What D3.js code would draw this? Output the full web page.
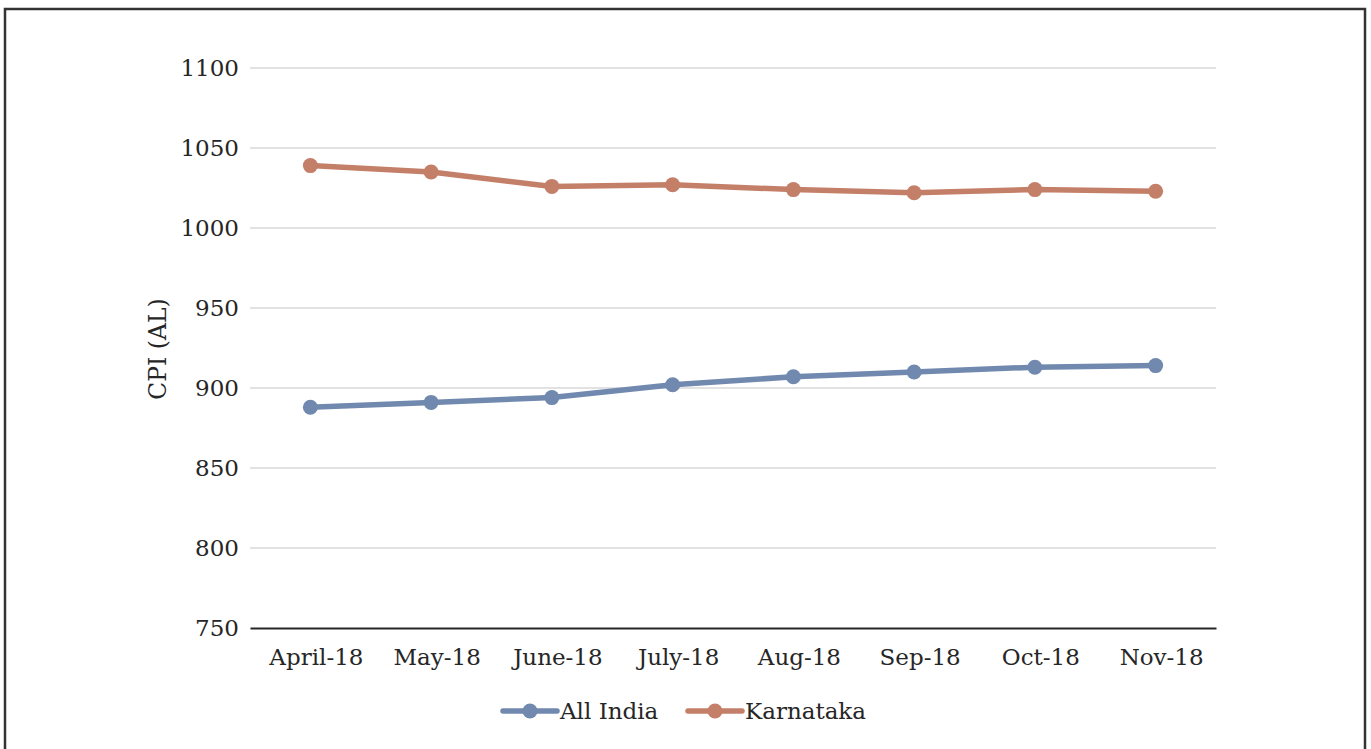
<!DOCTYPE html>
<html>
  <head>
    <meta charset="UTF-8" />
    <style>
      body { margin: 0; background: #fff; }
      svg text { font-family: "DejaVu Serif", serif; fill: #262626; }
    </style>
  </head>
  <body>
    <svg></svg>
    <script src="https://d3js.org/d3.v7.min.js"></script>
    <script>
      let width = 1371,
        height = 749;

      const months = ["April-18", "May-18", "June-18", "July-18", "Aug-18", "Sep-18", "Oct-18", "Nov-18"];
      const allIndia = [888, 891, 894, 902, 907, 910, 913, 914];
      const karnataka = [1039, 1035, 1026, 1027, 1024, 1022, 1024, 1023];
      const yTicks = [750, 800, 850, 900, 950, 1000, 1050, 1100];
      const seriesNames = ["All India", "Karnataka"];
      const colors = ["#7189ae", "#c47f68"];

      let svg = d3.select("svg").attr("width", width).attr("height", height);

      // outer frame
      svg.append("rect")
        .attr("x", 5).attr("y", 9)
        .attr("width", 1360).attr("height", 760)
        .attr("fill", "none")
        .attr("stroke", "#333")
        .attr("stroke-width", 2.5);

      let x = d3.scaleBand().domain(months).range([250, 1216]);
      let y = d3.scaleLinear().domain([750, 1100]).range([628, 68]);

      // gridlines
      svg.append("g")
        .selectAll("line")
        .data(yTicks.slice(1))
        .join("line")
        .attr("x1", 250).attr("x2", 1216)
        .attr("y1", (d) => y(d)).attr("y2", (d) => y(d))
        .attr("stroke", "#d9d9d9")
        .attr("stroke-width", 1.5);

      // y axis labels
      let yAxis = svg.append("g")
        .attr("transform", "translate(250,0)")
        .call(d3.axisLeft(y).tickValues(yTicks).tickFormat(d3.format("d")).tickSize(0).tickPadding(11));
      yAxis.select(".domain").remove();
      yAxis.selectAll("text").attr("font-size", 23).style("font-family", "DejaVu Serif");

      // x axis
      let xAxis = svg.append("g")
        .attr("transform", "translate(0," + y(750) + ")")
        .call(d3.axisBottom(x).tickSize(0).tickPadding(21));
      xAxis.select(".domain").attr("stroke", "#262626").attr("stroke-width", 2);
      xAxis.selectAll("text").attr("font-size", 23).attr("dx", 6).style("font-family", "DejaVu Serif");

      // y title
      svg.append("text")
        .attr("transform", "translate(166,349) rotate(-90)")
        .attr("text-anchor", "middle")
        .attr("font-size", 23.5)
        .text("CPI (AL)");

      let cx = (i) => x(months[i]) + x.bandwidth() / 2;
      let line = d3.line().x((d, i) => cx(i)).y((d) => y(d));

      [allIndia, karnataka].forEach((vals, s) => {
        svg.append("path")
          .datum(vals)
          .attr("d", line)
          .attr("fill", "none")
          .attr("stroke", colors[s])
          .attr("stroke-width", 5.5)
          .attr("stroke-linejoin", "round");
        svg.append("g")
          .selectAll("circle")
          .data(vals)
          .join("circle")
          .attr("cx", (d, i) => cx(i))
          .attr("cy", (d) => y(d))
          .attr("r", 7.5)
          .attr("fill", colors[s]);
      });

      // legend
      let legendX = [503, 688];
      seriesNames.forEach((name, s) => {
        let g = svg.append("g").attr("transform", "translate(" + legendX[s] + ",711)");
        g.append("line")
          .attr("x1", 0).attr("x2", 54)
          .attr("stroke", colors[s])
          .attr("stroke-width", 5.5)
          .attr("stroke-linecap", "round");
        g.append("circle").attr("cx", 27).attr("r", 7.5).attr("fill", colors[s]);
        g.append("text")
          .attr("x", 57)
          .attr("dy", "0.35em")
          .attr("font-size", 23)
          .text(name);
      });
    </script>
  </body>
</html>
